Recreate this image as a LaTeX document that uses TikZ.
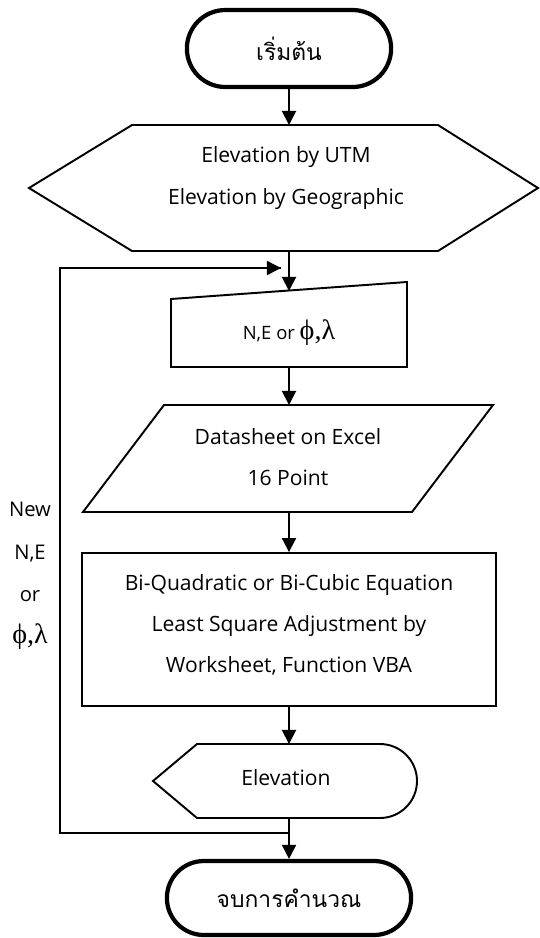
\documentclass[tikz,border=0pt]{standalone}
\usepackage{fontspec}
\setmainfont{Open Sans}
\newfontfamily\thaifont[Script=Thai]{Loma}
\newfontfamily\greekfont{Liberation Serif}
\usetikzlibrary{positioning}
\usetikzlibrary{calc}
\usetikzlibrary{arrows.meta,shapes.misc}

\newcommand{\phila}{{\greekfont\fontsize{16}{16}\selectfont ϕ,λ}}

\tikzset{
  shapeline/.style={draw,line width=1.1pt,line join=miter},
  term/.style={rounded rectangle,draw,line width=2.4pt},
  txt/.style={align=center,font=\fontsize{12}{23.5}\selectfont},
  arr/.style={line width=1.1pt,-{Triangle[length=8pt,width=8pt]}},
}

\begin{document}
\begin{tikzpicture}[x=0.02cm,y=-0.02cm]
\useasboundingbox (0,0) rectangle (539,938);

% start and stop
\node[term,minimum width=4.32cm,minimum height=1.54cm](start) at (289,48.5){\thaifont\fontsize{13}{13}\selectfont เริ่มต้น};
\node[term,minimum width=5.12cm,minimum height=1.48cm](stop) at (289,898){\thaifont\fontsize{13}{13}\selectfont จบการคำนวณ};

% preparation (hexagon)
\draw[shapeline] (29,188) -- (132,125) -- (438,125) -- (538,188) -- (438,251) -- (132,251) -- cycle;
\node[txt](prep) at (286,178){Elevation by UTM\\Elevation by Geographic};

% manual input
\draw[shapeline] (171,299) -- (407,282) -- (407,367) -- (171,367) -- cycle;
\node[font=\fontsize{10.5}{12}\selectfont](manin) at (289,333){N,E or \phila};

% data
\draw[shapeline] (164,405) -- (493,405) -- (412,512) -- (83,512) -- cycle;
\node[txt](sheet) at (288,457){Datasheet on Excel\\16 Point};

% process
\node[draw,line width=1.1pt,minimum width=8.28cm,minimum height=3.06cm](calc) at (289,629.5){};
\node[txt](calctxt) at (289,625){Bi-Quadratic or Bi-Cubic Equation\\Least Square Adjustment by\\Worksheet, Function VBA};

% display
\draw[shapeline] (153,781) -- (197,744) -- (380,744) arc[start angle=90,end angle=-90,radius=0.74cm] -- (197,818) -- cycle;
\node[txt](disp) at (286,778){Elevation};

% loop label
\node[align=center,font=\fontsize{11.5}{24}\selectfont](newlbl) at (30,576){New\\N,E\\or\\\phila};

% connector ends
\coordinate (prepT) at (289,125);
\coordinate (prepB) at (289,251);
\coordinate (maninT) at (289,291);
\coordinate (maninB) at (289,367);
\coordinate (sheetT) at (289,405);
\coordinate (sheetB) at (289,512);
\coordinate (dispT) at (289,744);
\coordinate (dispB) at (289,818);
\coordinate (loopJ) at (289,833);
\coordinate (loopL) at (60,833);
\coordinate (loopT) at (60,268);
\coordinate (loopE) at (281,268);

\path
(start) edge[arr] (prepT)
(prepB) edge[arr] (maninT)
(maninB) edge[arr] (sheetT)
(sheetB) edge[arr] (calc)
(calc) edge[arr] (dispT)
(dispB) edge[arr] (stop);

\draw[line width=0.9pt] (loopJ) -- (loopL) -- (loopT) -- (loopE);
\draw[arr,line width=0.9pt] (loopT) -- (loopE);
\end{tikzpicture}
\end{document}
